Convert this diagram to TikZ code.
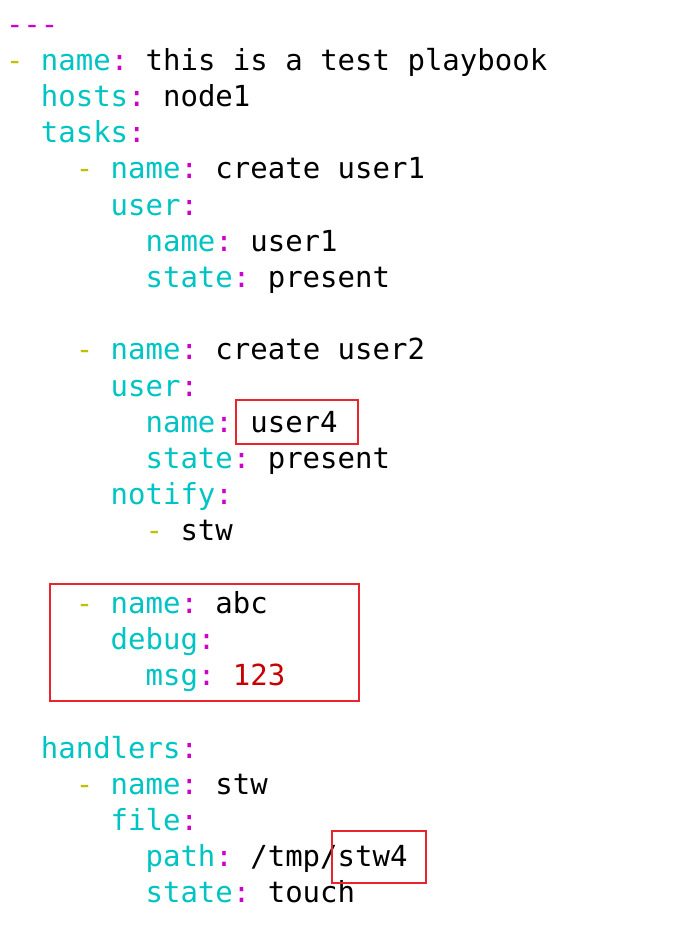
\documentclass[tikz,border=0pt]{standalone}
\usepackage{fontspec}
\newfontfamily\codefont{DejaVu Sans Mono}
\definecolor{keyc}{RGB}{0,196,196}
\definecolor{colc}{RGB}{204,0,204}
\definecolor{dashc}{RGB}{192,192,0}
\definecolor{numc}{RGB}{200,0,0}
\definecolor{boxc}{RGB}{232,36,44}
\newcommand\ky[1]{\textcolor{keyc}{#1}\textcolor{colc}{:}}
\newcommand\ds{\textcolor{dashc}{-}}
\frenchspacing
\begin{document}
\begin{tikzpicture}[x=1pt,y=-1pt,
  code/.style={anchor=base west,inner sep=0pt,font=\codefont\fontsize{29}{29}\selectfont\frenchspacing,text=black},
  redbox/.style={draw=boxc,line width=2pt,fill=none,inner sep=0pt,anchor=north west}]
\useasboundingbox[fill=white] (0,0) rectangle (678,938);
\def\cw{17.45}
\def\xo{5.8}
\def\lh{36.2}
\def\yo{34}
\node[code] (l1) at ({\xo},{\yo}) {\textcolor{colc}{-{}-{}-}};
\node[code] (l2) at ({\xo},{\yo+1*\lh}) {\ds{} \ky{name} this is a test playbook};
\node[code] (l3) at ({\xo+2*\cw},{\yo+2*\lh}) {\ky{hosts} node1};
\node[code] (l4) at ({\xo+2*\cw},{\yo+3*\lh}) {\ky{tasks}};
\node[code] (l5) at ({\xo+4*\cw},{\yo+4*\lh}) {\ds{} \ky{name} create user1};
\node[code] (l6) at ({\xo+6*\cw},{\yo+5*\lh}) {\ky{user}};
\node[code] (l7) at ({\xo+8*\cw},{\yo+6*\lh}) {\ky{name} user1};
\node[code] (l8) at ({\xo+8*\cw},{\yo+7*\lh}) {\ky{state} present};
\node[code] (l10) at ({\xo+4*\cw},{\yo+9*\lh}) {\ds{} \ky{name} create user2};
\node[code] (l11) at ({\xo+6*\cw},{\yo+10*\lh}) {\ky{user}};
\node[code] (l12) at ({\xo+8*\cw},{\yo+11*\lh}) {\ky{name} user4};
\node[code] (l13) at ({\xo+8*\cw},{\yo+12*\lh}) {\ky{state} present};
\node[code] (l14) at ({\xo+6*\cw},{\yo+13*\lh}) {\ky{notify}};
\node[code] (l15) at ({\xo+8*\cw},{\yo+14*\lh}) {\ds{} stw};
\node[code] (l17) at ({\xo+4*\cw},{\yo+16*\lh}) {\ds{} \ky{name} abc};
\node[code] (l18) at ({\xo+6*\cw},{\yo+17*\lh}) {\ky{debug}};
\node[code] (l19) at ({\xo+8*\cw},{\yo+18*\lh}) {\ky{msg} \textcolor{numc}{123}};
\node[code] (l21) at ({\xo+2*\cw},{\yo+20*\lh}) {\ky{handlers}};
\node[code] (l22) at ({\xo+4*\cw},{\yo+21*\lh}) {\ds{} \ky{name} stw};
\node[code] (l23) at ({\xo+6*\cw},{\yo+22*\lh}) {\ky{file}};
\node[code] (l24) at ({\xo+8*\cw},{\yo+23*\lh}) {\ky{path} /tmp/stw4};
\node[code] (l25) at ({\xo+8*\cw},{\yo+24*\lh}) {\ky{state} touch};
\node[redbox,minimum width=122pt,minimum height=44pt] (box1) at (235,399) {};
\node[redbox,minimum width=309pt,minimum height=117pt] (box2) at (49,583) {};
\node[redbox,minimum width=94pt,minimum height=52pt] (box3) at (331,830) {};
\end{tikzpicture}
\end{document}
